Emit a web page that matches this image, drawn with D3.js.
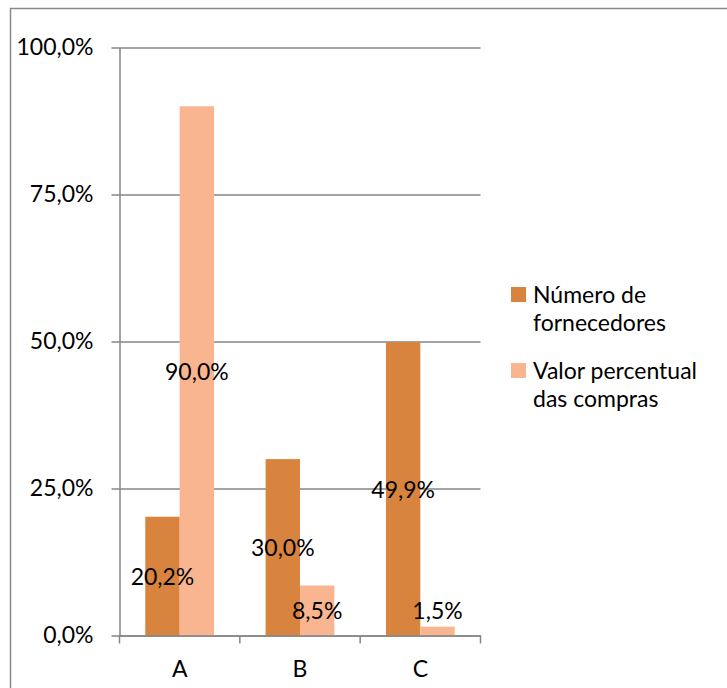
<!DOCTYPE html>
<html>
<head>
<meta charset="utf-8">
<script src="https://cdn.jsdelivr.net/npm/d3@7"></script>
<style>
  html, body { margin: 0; padding: 0; background: #fff; }
  svg { display: block; font-family: Lato, "Open Sans", sans-serif; }
</style>
</head>
<body>
<svg id="chart" width="727" height="688"></svg>
<script>
// Supplier classes and the two series shown for each
const categories = ["A", "B", "C"];
const seriesNames = ["Número de fornecedores", "Valor percentual das compras"];
const numeroFornecedores = [20.2, 30.0, 49.9];
const valorCompras = [90.0, 8.5, 1.5];
const yTicks = [0, 25, 50, 75, 100];
const colors = ["#D9843E", "#F8B590"];

const FONT = 23;
const fmt = v => d3.format(".1f")(v).replace(".", ",") + "%";

const svg = d3.select("#chart");
const margin = { left: 119.5, right: 480.5, top: 47.5, bottom: 635.5 };

// Chart frame
svg.append("rect")
  .attr("x", 10.5).attr("y", 8.5)
  .attr("width", 760).attr("height", 700)
  .attr("fill", "none").attr("stroke", "#8a8a8a").attr("stroke-width", 1.5);

const x = d3.scaleBand().domain(categories).range([margin.left, margin.right]);
const xs = d3.scaleBand().domain([0, 1]).range([0, x.bandwidth()])
  .paddingOuter(0.75).paddingInner(0);
const y = d3.scaleLinear().domain([0, 100]).range([margin.bottom, margin.top]);

// Gridlines and y axis
const yAxis = d3.axisLeft(y).tickValues(yTicks).tickFormat(v => fmt(v))
  .tickSize(-(margin.right - margin.left)).tickSizeOuter(0).tickPadding(26);
const gy = svg.append("g").attr("transform", `translate(${margin.left},0)`).call(yAxis);
gy.select(".domain").attr("stroke", "#868686").attr("stroke-width", 1.5);
gy.selectAll(".tick line").attr("stroke", "#868686").attr("stroke-width", 1.5)
  .attr("x1", -8);
gy.selectAll(".tick text").attr("font-size", FONT).attr("fill", "#000")
  .attr("font-family", "Lato, sans-serif");

// Bars
const data = categories.map((c, i) => ({ cat: c, vals: [numeroFornecedores[i], valorCompras[i]] }));
const groups = svg.append("g").selectAll("g").data(data).join("g")
  .attr("transform", d => `translate(${x(d.cat)},0)`);
groups.selectAll("rect").data(d => d.vals.map((v, s) => ({ v, s }))).join("rect")
  .attr("x", d => xs(d.s))
  .attr("width", xs.bandwidth())
  .attr("y", d => y(d.v))
  .attr("height", d => y(0) - y(d.v))
  .attr("fill", d => colors[d.s]);

// x axis
const xAxis = d3.axisBottom(x).tickSize(0).tickPadding(25);
const gx = svg.append("g").attr("transform", `translate(0,${margin.bottom})`).call(xAxis);
gx.select(".domain").attr("stroke", "#868686").attr("stroke-width", 1.5);
gx.selectAll(".tick text").attr("font-size", FONT).attr("fill", "#000")
  .attr("font-family", "Lato, sans-serif");
const boundaries = [0, 1, 2, 3].map(i => margin.left + i * x.step());
gx.selectAll(".bound").data(boundaries).join("line").attr("class", "bound")
  .attr("x1", d => d).attr("x2", d => d).attr("y1", 0).attr("y2", 8)
  .attr("stroke", "#868686").attr("stroke-width", 1.5);

// Value labels, centred in each bar and kept clear of the axis
groups.selectAll("text.val").data(d => d.vals.map((v, s) => ({ v, s }))).join("text")
  .attr("class", "val")
  .attr("x", d => xs(d.s) + xs.bandwidth() / 2)
  .attr("y", d => Math.min((y(d.v) + y(0)) / 2, y(0) - 26))
  .attr("text-anchor", "middle")
  .attr("dominant-baseline", "central")
  .attr("font-size", FONT)
  .attr("fill", "#000")
  .text(d => fmt(d.v));

// Legend
const legendLines = [["Número de", "fornecedores"], ["Valor percentual", "das compras"]];
const lg = svg.append("g").attr("transform", "translate(511,0)");
const items = lg.selectAll("g").data(seriesNames).join("g")
  .attr("transform", (d, i) => `translate(0,${288 + i * 76})`);
items.append("rect").attr("x", 0).attr("y", -1).attr("width", 15).attr("height", 15)
  .attr("fill", (d, i) => colors[i]);
items.each(function (d, i) {
  const t = d3.select(this).append("text").attr("x", 22).attr("y", 15)
    .attr("font-size", FONT).attr("fill", "#000");
  legendLines[i].forEach((ln, k) => {
    t.append("tspan").attr("x", 22).attr("dy", k === 0 ? 0 : 28).text(ln);
  });
});
</script>
</body>
</html>
